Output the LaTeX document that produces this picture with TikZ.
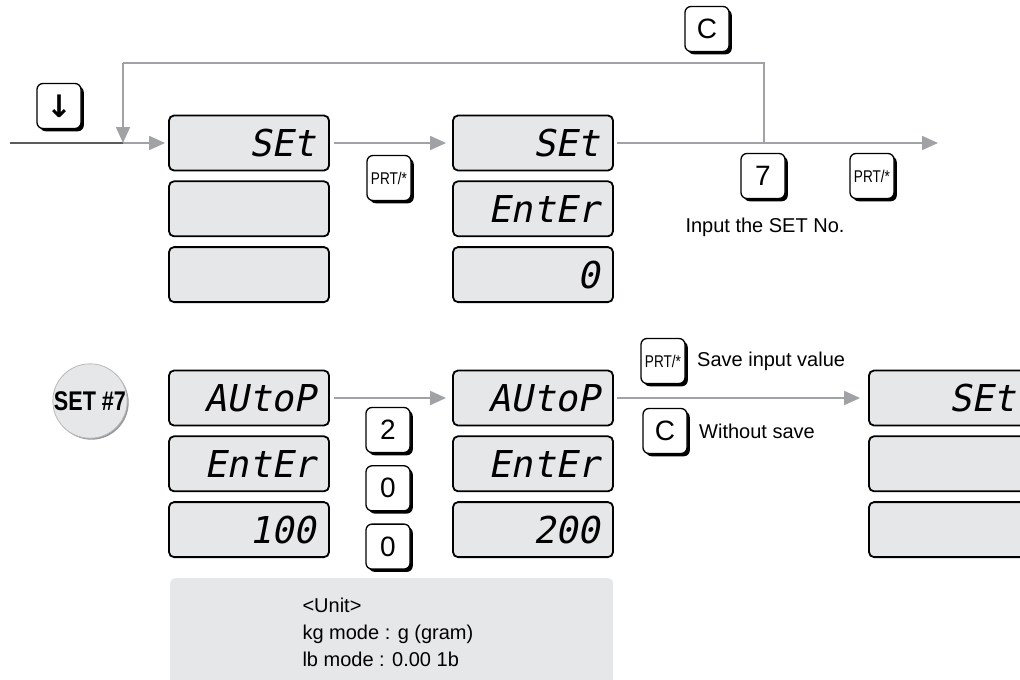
\documentclass[tikz,border=0pt]{standalone}
\usepackage{fontspec}
\setmainfont{Liberation Sans}
\newfontfamily\lcdfont[FakeSlant=0.2]{DejaVu Sans Mono}
\newfontfamily\symfont{DejaVu Sans}
\newfontfamily\narrowfont[FakeStretch=0.8]{Liberation Sans}
\usepackage{xcolor}
\usepackage{tikz}
\usetikzlibrary{arrows.meta,positioning,shadows}
\definecolor{lcdgray}{HTML}{E6E7E8}
\definecolor{linegray}{HTML}{A0A2A5}
\definecolor{leadgray}{HTML}{5A5B5D}

\begin{document}
\begin{tikzpicture}[
    x=1pt, y=-1pt,
    font=\fontsize{20}{27}\selectfont,
    lcd/.style={draw, line width=1.8pt, rounded corners=5pt, fill=lcdgray, minimum width=160pt, minimum height=55pt, inner xsep=13pt, text width=134pt, align=right, font=\lcdfont\fontsize{37}{37}\selectfont},
    key/.style={draw, line width=1.3pt, fill=white, rounded corners=6pt, minimum width=44pt, minimum height=45pt, inner sep=0pt, general shadow={fill=black, shadow xshift=2.8pt, shadow yshift=-2.8pt}, font=\fontsize{28}{28}\selectfont},
    prt/.style={key, font=\narrowfont\fontsize{17}{17}\selectfont},
    setbtn/.style={circle, draw=gray!55, line width=0.8pt, fill=lcdgray, minimum size=72pt, inner sep=0pt, general shadow={fill=gray!80, shadow xshift=1.5pt, shadow yshift=-1.5pt}, font=\narrowfont\bfseries\fontsize{27}{27}\selectfont},
    arrow/.style={-{Triangle[length=16pt, width=14pt]}, line width=1.8pt, draw=linegray, fill=linegray},
    link/.style={line width=1.8pt, draw=linegray}
  ]
  \useasboundingbox (0,0) rectangle (1020,680);

  \node[lcd] (setA) at (249,143) {SEt};
  \node[lcd, below=9pt of setA] (setB) {};
  \node[lcd, below=9pt of setB] (setC) {};

  \node[lcd] (entA) at (533,143) {SEt};
  \node[lcd, below=9pt of entA] (entB) {EntEr};
  \node[lcd, below=9pt of entB] (entC) {0};

  \node[key] (down) at (59,106) {\symfont\bfseries\fontsize{31}{31}\selectfont ↓};
  \node[prt] (prtA) at (389,178) {PRT/*};
  \node[key] (clrA) at (707,29) {C};
  \node[key] (seven) at (763,176) {7};
  \node[prt] (prtB) at (872,176) {PRT/*};
  \node[below=15pt of seven, xshift=2pt] (hint) {Input the SET No.};

  \node[setbtn] (set7) at (90,401) {SET \#7};

  \node[lcd] (autoA) at (249,398) {AUtoP};
  \node[lcd, below=9pt of autoA] (autoB) {EntEr};
  \node[lcd, below=9pt of autoB] (autoC) {100};

  \node[key] (two) at (388,430) {2};
  \node[key, below=12pt of two] (zeroA) {0};
  \node[key, below=12pt of zeroA] (zeroB) {0};

  \node[lcd] (newA) at (533,398) {AUtoP};
  \node[lcd, below=9pt of newA] (newB) {EntEr};
  \node[lcd, below=9pt of newB] (newC) {200};

  \node[prt] (prtC) at (663,361) {PRT/*};
  \node[key] (clrB) at (665,431) {C};
  \node[right=8pt of prtC] (savetxt) {Save input value};
  \node[right=8pt of clrB] (nosavetxt) {Without save};

  \node[lcd] (endA) at (949,398) {SEt};
  \node[lcd, below=9pt of endA] (endB) {};
  \node[lcd, below=9pt of endB] (endC) {};

  \node[fill=lcdgray, rounded corners=5pt, minimum width=443pt, minimum height=130pt, anchor=north west] (unitbox) at (170,578) {};
  \node[align=left, anchor=west] (unittxt) at (299,632) {<Unit>\\kg mode : g (gram)\\lb mode : 0.00 1b};

  \coordinate (inlet) at (10,143);
  \coordinate (merge) at (123,143);
  \coordinate (loopL) at (123,63);
  \coordinate (loopR) at (764,63);
  \coordinate (split) at (764,143);
  \coordinate (outlet) at (938,143);

  \draw[line width=1.8pt, leadgray] (inlet) -- (merge);
  \draw[arrow, shorten >=3pt] (merge) -- (setA);
  \draw[link] (split) -- (loopR) -- (loopL);
  \draw[arrow] (loopL) -- (merge);
  \draw[arrow, shorten <=4pt, shorten >=6pt] (setA) -- (entA);
  \draw[arrow, shorten <=3pt] (entA) -- (outlet);
  \draw[arrow, shorten <=4pt, shorten >=6pt] (autoA) -- (newA);
  \draw[arrow, shorten <=3pt, shorten >=8pt] (newA) -- (endA);
\end{tikzpicture}
\end{document}
